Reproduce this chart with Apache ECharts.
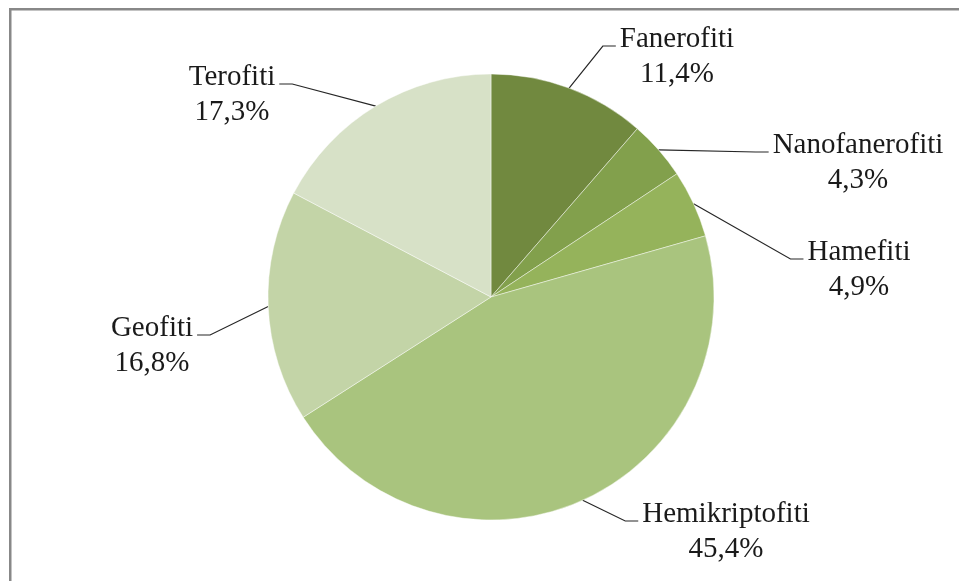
<!DOCTYPE html>
<html>
<head>
<meta charset="utf-8">
<script src="https://cdn.jsdelivr.net/npm/echarts@6/dist/echarts.min.js"></script>
<style>
html,body{margin:0;padding:0;background:#fff;}
#chart{width:959px;height:581px;}
</style>
</head>
<body>
<div id="chart"></div>
<script>
var categories = ['Fanerofiti', 'Nanofanerofiti', 'Hamefiti', 'Hemikriptofiti', 'Geofiti', 'Terofiti'];
var values = [11.4, 4.3, 4.9, 45.4, 16.8, 17.3];
var colors = ['#71893F', '#82A04C', '#95B35B', '#A9C47E', '#C3D4A7', '#D7E1C7'];

// label block centres (layout only)
var labelCenters = [[677, 57], [858, 163], [859, 270], [726, 532], [152, 346], [232, 95]];
var labelSide = ['right', 'right', 'right', 'right', 'left', 'left'];

var chart = echarts.init(document.getElementById('chart'), null, {renderer: 'canvas'});

var data = categories.map(function (c, i) {
  return {name: c, value: values[i], itemStyle: {color: colors[i]}};
});

function fmt(v) {
  return v.toFixed(1).replace('.', ',') + '%';
}

var LH = 35;

chart.setOption({
  animation: false,
  backgroundColor: '#ffffff',
  graphic: [{
    type: 'rect',
    shape: {x: 10.25, y: 9.25, width: 1000, height: 1000},
    style: {fill: 'none', stroke: '#888888', lineWidth: 2.5},
    silent: true
  }],
  series: [{
    type: 'pie',
    center: [491, 297],
    radius: 223,
    startAngle: 90,
    clockwise: true,
    data: data,
    itemStyle: {borderColor: 'rgba(255,255,255,0.55)', borderWidth: 0.8},
    label: {
      show: true,
      position: 'outside',
      formatter: function (p) { return p.name + '\n' + fmt(p.value); },
      fontFamily: '"Liberation Serif", "Times New Roman", serif',
      fontSize: 29,
      lineHeight: LH,
      color: '#1a1a1a',
      align: 'center'
    },
    labelLine: {
      show: true,
      length: 20,
      length2: 10,
      lineStyle: {color: '#262626', width: 1.2}
    },
    labelLayout: function (params) {
      var i = params.dataIndex;
      var c = labelCenters[i];
      var w = params.labelRect.width;
      var start = params.labelLinePoints ? params.labelLinePoints[0] : [0, 0];
      var lineY = c[1] - LH / 2 + 6.5;
      var endX, elbowX;
      if (labelSide[i] === 'right') {
        endX = c[0] - w / 2 - 4;
        elbowX = endX - 13;
      } else {
        endX = c[0] + w / 2 + 4;
        elbowX = endX + 13;
      }
      return {
        x: c[0],
        y: c[1],
        align: 'center',
        verticalAlign: 'middle',
        labelLinePoints: [start, [elbowX, lineY], [endX, lineY]]
      };
    }
  }]
});
</script>
</body>
</html>
